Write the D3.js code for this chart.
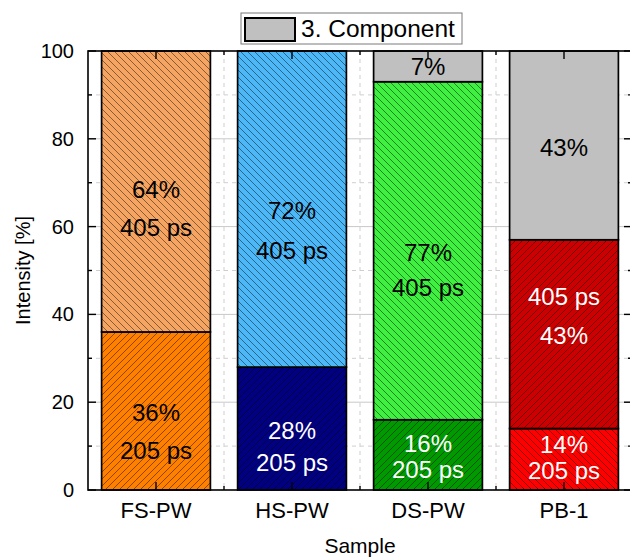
<!DOCTYPE html>
<html>
<head>
<meta charset="utf-8">
<script src="https://cdn.jsdelivr.net/npm/d3@7"></script>
<style>
  html, body { margin: 0; padding: 0; background: #fff; }
  svg { display: block; font-family: "Liberation Sans", Arial, sans-serif; }
</style>
</head>
<body>
<svg id="chart" width="630" height="558"></svg>
<script>
// Lifetime components per sample (intensity in %)
const samples   = ["FS-PW", "HS-PW", "DS-PW", "PB-1"];
const comp205   = [36, 28, 16, 14];   // 205 ps component
const comp405   = [64, 72, 77, 43];   // 405 ps component
const comp3     = [0, 0, 7, 43];      // third component
const yTicks    = [0, 20, 40, 60, 80, 100];
const legendLabel = "3. Component";

// Segment colours and hatch direction per sample
const lowColors  = ["#ff8000", "#000080", "#009a00", "#ff0000"];
const highColors = ["#f5a462", "#4db8f7", "#40f040", "#cc0000"];
const greyColor  = "#c0c0c0";
const lowHatch   = ["/", "/", "/", "\\"];
const highHatch  = ["\\", "\\", "\\", "/"];
const lowText    = ["#000", "#fff", "#fff", "#fff"];
const highText   = ["#000", "#000", "#000", "#fff"];

// Label placement: centre (value units) and line gap (px) for each segment
const lowLabelAt  = [[13.2, 38], [10.0, 32], [7.7, 26], [7.3, 26]];
const highLabelAt = [[64.0, 38], [59.2, 40], [50.2, 35], [39.5, 39]];
const greyLabelAt = [null, null, 96.4, 78.1];

const svg = d3.select("#chart");
const pL = 88, pR = 632, pT = 51, pB = 490;

const x = d3.scaleBand().domain(samples).range([pL, pR])
  .paddingInner(0.2).paddingOuter(0.1);
const y = d3.scaleLinear().domain([0, 100]).range([pB, pT]);

// Hatch patterns
const defs = svg.append("defs");
function hatch(id, color, dir) {
  const s = 7;
  const p = defs.append("pattern").attr("id", id)
    .attr("patternUnits", "userSpaceOnUse").attr("width", s).attr("height", s);
  p.append("rect").attr("width", s).attr("height", s).attr("fill", color);
  const d = dir === "/"
    ? `M0,${s} L${s},0 M${-s/2},${s/2} L${s/2},${-s/2} M${s/2},${s*1.5} L${s*1.5},${s/2}`
    : `M0,0 L${s},${s} M${-s/2},${s/2} L${s/2},${s*1.5} M${s/2},${-s/2} L${s*1.5},${s/2}`;
  p.append("path").attr("d", d).attr("stroke", "#000")
    .attr("stroke-width", 0.75).attr("stroke-opacity", 0.6);
}
samples.forEach((s, i) => {
  hatch("lo" + i, lowColors[i], lowHatch[i]);
  hatch("hi" + i, highColors[i], highHatch[i]);
});

// Grid
const grid = svg.append("g");
const minorY = d3.range(10, 100, 20);
grid.selectAll(".gmaj").data([20, 40, 60, 80]).join("line")
  .attr("x1", pL).attr("x2", pR).attr("y1", d => y(d)).attr("y2", d => y(d))
  .attr("stroke", "#c8c8c8").attr("stroke-width", 1);
grid.selectAll(".gmin").data(minorY).join("line")
  .attr("x1", pL).attr("x2", pR).attr("y1", d => y(d)).attr("y2", d => y(d))
  .attr("stroke", "#cfcfcf").attr("stroke-width", 1).attr("stroke-dasharray", "4,4");
const step = x.step();
const minorX = samples.slice(1).map(s => x(s) - (step - x.bandwidth()) / 2);
grid.selectAll(".gvx").data(minorX).join("line")
  .attr("x1", d => d).attr("x2", d => d).attr("y1", pT).attr("y2", pB)
  .attr("stroke", "#cfcfcf").attr("stroke-width", 1).attr("stroke-dasharray", "4,4");

// Bars
const bars = svg.append("g");
const segs = [];
samples.forEach((s, i) => {
  segs.push({ s, y0: 0, y1: comp205[i], fill: `url(#lo${i})` });
  segs.push({ s, y0: comp205[i], y1: comp205[i] + comp405[i], fill: `url(#hi${i})` });
  if (comp3[i] > 0)
    segs.push({ s, y0: comp205[i] + comp405[i], y1: comp205[i] + comp405[i] + comp3[i], fill: greyColor });
});
bars.selectAll("rect").data(segs).join("rect")
  .attr("x", d => x(d.s)).attr("width", x.bandwidth())
  .attr("y", d => y(d.y1)).attr("height", d => y(d.y0) - y(d.y1))
  .attr("fill", d => d.fill).attr("stroke", "#000").attr("stroke-width", 1.7);

// Value labels
const labels = svg.append("g").attr("font-size", 24).attr("text-anchor", "middle");
function twoLine(cx, at, lines, color) {
  const cy = y(at[0]), g = at[1];
  lines.forEach((t, k) => {
    labels.append("text").attr("x", cx).attr("y", cy + (k - 0.5) * g)
      .attr("dy", "0.35em").attr("fill", color).text(t);
  });
}
samples.forEach((s, i) => {
  const cx = x(s) + x.bandwidth() / 2;
  twoLine(cx, lowLabelAt[i], [comp205[i] + "%", "205 ps"], lowText[i]);
  const hiLines = i === 3 ? ["405 ps", comp405[i] + "%"] : [comp405[i] + "%", "405 ps"];
  twoLine(cx, highLabelAt[i], hiLines, highText[i]);
  if (greyLabelAt[i] !== null) {
    labels.append("text").attr("x", cx).attr("y", y(greyLabelAt[i]))
      .attr("dy", "0.35em").attr("fill", "#000").text(comp3[i] + "%");
  }
});

// Frame
const frame = svg.append("g").attr("stroke", "#000").attr("stroke-width", 1.6).attr("fill", "none");
frame.append("rect").attr("x", pL).attr("y", pT).attr("width", pR - pL).attr("height", pB - pT);

// Ticks (inward) on all four sides
const ticks = svg.append("g").attr("stroke", "#000").attr("stroke-width", 1.4);
[[pL, 1], [pR, -1]].forEach(([xx, dir]) => {
  yTicks.forEach(v => ticks.append("line").attr("x1", xx).attr("x2", xx + dir * 8).attr("y1", y(v)).attr("y2", y(v)));
  minorY.forEach(v => ticks.append("line").attr("x1", xx).attr("x2", xx + dir * 4).attr("y1", y(v)).attr("y2", y(v)));
});
[[pB, -1], [pT, 1]].forEach(([yy, dir]) => {
  samples.forEach(s => {
    const cx = x(s) + x.bandwidth() / 2;
    ticks.append("line").attr("x1", cx).attr("x2", cx).attr("y1", yy).attr("y2", yy + dir * 8);
  });
  minorX.forEach(mx => ticks.append("line").attr("x1", mx).attr("x2", mx).attr("y1", yy).attr("y2", yy + dir * 4));
});

// Axis labels
const yAxis = d3.axisLeft(y).tickValues(yTicks).tickSize(0).tickPadding(14);
const ya = svg.append("g").attr("transform", `translate(${pL},0)`).call(yAxis);
ya.select(".domain").remove();
ya.selectAll("text").attr("font-size", 20).attr("fill", "#000")
  .attr("font-family", "'Liberation Sans', Arial, sans-serif");

const xAxis = d3.axisBottom(x).tickSize(0).tickPadding(12);
const xa = svg.append("g").attr("transform", `translate(0,${pB})`).call(xAxis);
xa.select(".domain").remove();
xa.selectAll("text").attr("font-size", 22).attr("fill", "#000")
  .attr("font-family", "'Liberation Sans', Arial, sans-serif");

svg.append("text").attr("transform", `translate(30,${(pT + pB) / 2}) rotate(-90)`)
  .attr("text-anchor", "middle").attr("font-size", 20).text("Intensity [%]");
svg.append("text").attr("x", (pL + pR) / 2).attr("y", 553)
  .attr("text-anchor", "middle").attr("font-size", 21).text("Sample");

// Legend
const lg = svg.append("g");
lg.append("rect").attr("x", 241).attr("y", 13).attr("width", 221).attr("height", 31)
  .attr("fill", "#fff").attr("stroke", "#7a7a7a").attr("stroke-width", 1);
lg.append("rect").attr("x", 245).attr("y", 18).attr("width", 50).attr("height", 23)
  .attr("fill", greyColor).attr("stroke", "#000").attr("stroke-width", 2);
lg.append("text").attr("x", 301).attr("y", 37).attr("font-size", 24.5).text(legendLabel);
</script>
</body>
</html>
